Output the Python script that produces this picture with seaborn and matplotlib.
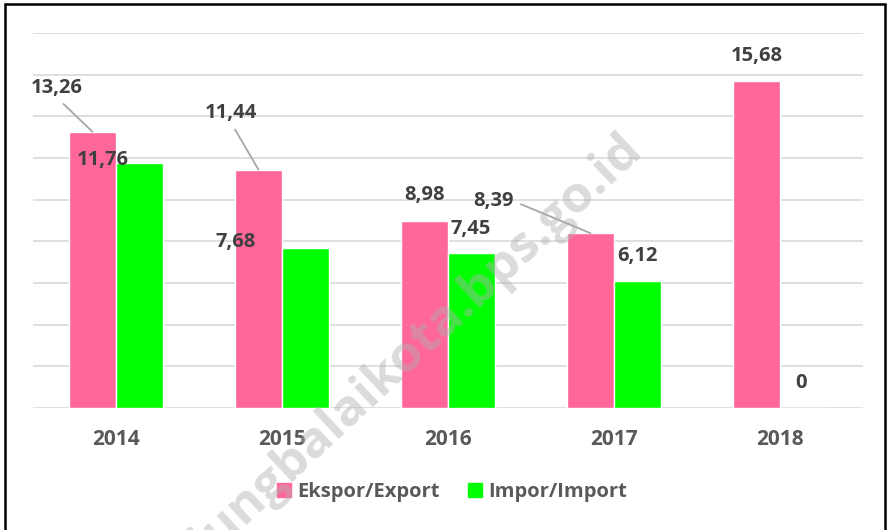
import numpy as np
import pandas as pd
import matplotlib
matplotlib.use('Agg')
import matplotlib.pyplot as plt
from matplotlib.lines import Line2D
import seaborn as sns

years = ['2014', '2015', '2016', '2017', '2018']
ekspor = [13.26, 11.44, 8.98, 8.39, 15.68]
impor = [11.76, 7.68, 7.45, 6.12, 0]
series_names = ['Ekspor/Export', 'Impor/Import']
colors = ['#FF6699', '#00FF00']

df = pd.DataFrame({
    'tahun': years * 2,
    'nilai': ekspor + impor,
    'seri': [series_names[0]] * len(years) + [series_names[1]] * len(years),
})

sns.set_style('white')
plt.rcParams['font.family'] = ['Open Sans', 'DejaVu Sans']

fig = plt.figure(figsize=(8.9, 5.3), dpi=100)
ax = fig.add_axes([33 / 890, 122 / 530, 830 / 890, 375 / 530])

sns.barplot(data=df, x='tahun', y='nilai', hue='seri', palette=colors,
            width=0.566, saturation=1, ax=ax, legend=False, zorder=2)

ax.set_ylim(0, 18)
ax.set_xlim(-0.5, 4.5)
ax.set_yticks(np.arange(0, 19, 2))
ax.yaxis.grid(True, color='#D9D9D9', linewidth=1.2, zorder=0)
ax.set_axisbelow(True)
ax.tick_params(axis='y', left=False, labelleft=False)
ax.tick_params(axis='x', length=0, pad=15, labelsize=15, labelcolor='#595959')
for lab in ax.get_xticklabels():
    lab.set_fontweight('bold')
ax.set_xlabel('')
ax.set_ylabel('')
sns.despine(ax=ax, left=True, right=True, top=True, bottom=True)

# label offsets in pixels (dx, dy) from bar top centre, plus leader line flag
px = 72 / 100
offsets = [
    [(-35.5, 44, True), (-27.5, 57, True), (0, 26, False), (-97, 32, True), (0, 25, False)],
    [(-36.5, 3, False), (-69.5, 6, False), (-1, 24, False), (0, 24, False), (-2, 25, False)],
]
for ci, cont in enumerate(ax.containers):
    for bi, bar in enumerate(cont):
        h = bar.get_height()
        xc = bar.get_x() + bar.get_width() / 2
        txt = f'{h:.2f}'.replace('.', ',') if h != 0 else '0'
        dx, dy, lead = offsets[ci][bi]
        kw = {}
        if lead:
            rel = (1, 0.5) if dx < -60 else (0.5, 0)
            kw['arrowprops'] = dict(arrowstyle='-', color='#A6A6A6', lw=1.3,
                                    shrinkA=3, shrinkB=0, relpos=rel)
        ax.annotate(txt, xy=(xc, h), xytext=(dx * px, dy * px),
                    textcoords='offset points', ha='center', va='center',
                    fontsize=14.5, fontweight='bold', color='#404040', zorder=5, **kw)

handles = [plt.Rectangle((0, 0), 1, 1, color=c) for c in colors]
fig.legend(handles, series_names, loc='center', bbox_to_anchor=(452 / 890, 1 - 492 / 530),
           ncol=2, frameon=False, handlelength=0.7, handleheight=0.7,
           handletextpad=0.3, columnspacing=1.4,
           prop={'size': 14.5, 'weight': 'bold'}, labelcolor='#595959')

# watermark
fig.text(386 / 890, 1 - 377 / 530, 'tanjungbalaikota.bps.go.id', rotation=43,
         ha='center', va='center', fontsize=37, fontweight='bold',
         color='#B0B0B0', alpha=0.45, zorder=10)

# frame around the picture
for xs, ys in [([4.5 / 890, 4.5 / 890], [0, 1 - 4 / 530]),
               ([4.5 / 890, 885 / 890], [1 - 4 / 530, 1 - 4 / 530]),
               ([885 / 890, 885 / 890], [0, 1 - 4 / 530])]:
    fig.add_artist(Line2D(xs, ys, color='black', linewidth=1.8))

fig.savefig('out.png', dpi=100)
